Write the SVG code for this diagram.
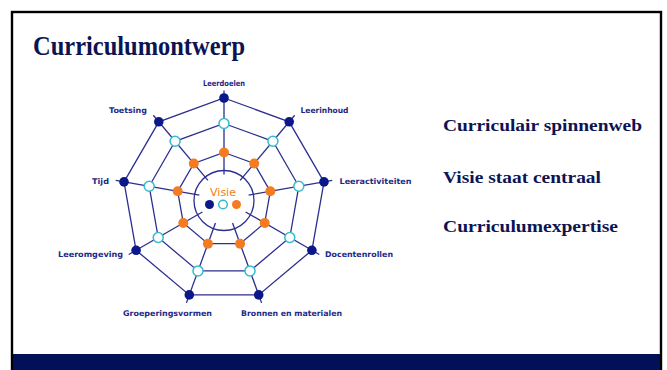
<svg xmlns="http://www.w3.org/2000/svg" width="667" height="370" viewBox="0 0 667 370">
<style>
.web{fill:none;stroke:#2b2f8e;stroke-width:1.3}
.n{fill:#0b1889}
.c{fill:#fff;stroke:#35bccb;stroke-width:1.5}
.o{fill:#f47b20}
.lbl{font-family:"DejaVu Sans","Liberation Sans",sans-serif;font-weight:bold;font-size:7.8px;fill:#1c2a86}
.h{font-family:"Liberation Serif","Times New Roman",serif;font-weight:bold;fill:#0d1452}
</style>
<rect x="0" y="0" width="667" height="370" fill="#fff"/>
<rect x="12" y="354" width="650" height="16" fill="#021157"/>
<rect x="12" y="12" width="649" height="370" fill="none" stroke="#000" stroke-width="2.4"/>
<text class="h" x="33" y="55" font-size="26.5" textLength="212" lengthAdjust="spacingAndGlyphs">Curriculumontwerp</text>
<text class="h" x="443" y="131" font-size="17" textLength="199" lengthAdjust="spacingAndGlyphs">Curriculair spinnenweb</text>
<text class="h" x="443" y="183" font-size="17" textLength="158" lengthAdjust="spacingAndGlyphs">Visie staat centraal</text>
<text class="h" x="443" y="232" font-size="17" textLength="175" lengthAdjust="spacingAndGlyphs">Curriculumexpertise</text>
<g id="connectors">
<polygon class="web" points="224,98 289.2,121.8 324,181.9 311.9,250.3 258.7,294.9 189.3,294.9 136.1,250.3 124,181.9 158.8,121.8"/>
<polygon class="web" points="224,123.5 272.9,141.3 298.8,186.3 289.8,237.5 250,270.9 198,270.9 158.2,237.5 149.2,186.3 175.1,141.3"/>
<polygon class="web" points="224,152.5 254.2,163.5 270.3,191.3 264.7,223 240.1,243.7 207.9,243.7 183.3,223 177.7,191.3 193.8,163.5"/>
<circle class="web" cx="224" cy="200.5" r="30"/>
<line class="web" x1="224" y1="174.5" x2="224" y2="90.5"/>
<line class="web" x1="240.1" y1="180.35" x2="294.7" y2="115.24"/>
<line class="web" x1="248.6" y1="195.16" x2="332.3" y2="180.4"/>
<line class="web" x1="245.65" y1="212" x2="319.3" y2="254.5"/>
<line class="web" x1="232.55" y1="223" x2="261.6" y2="302.9"/>
<line class="web" x1="215.45" y1="223" x2="186.4" y2="302.9"/>
<line class="web" x1="202.35" y1="212" x2="128.7" y2="254.5"/>
<line class="web" x1="199.38" y1="195.16" x2="115.7" y2="180.4"/>
<line class="web" x1="207.93" y1="180.35" x2="153.3" y2="115.24"/>
</g>
<g id="leerdoelen"><circle class="n" cx="224" cy="98" r="4.8"/><circle class="c" cx="224" cy="123.5" r="5"/><circle class="o" cx="224" cy="152.5" r="5"/><text class="lbl" x="224" y="86" text-anchor="middle" textLength="42" lengthAdjust="spacingAndGlyphs">Leerdoelen</text></g>
<g id="leerinhoud"><circle class="n" cx="289.2" cy="121.8" r="4.8"/><circle class="c" cx="272.9" cy="141.3" r="5"/><circle class="o" cx="254.2" cy="163.5" r="5"/><text class="lbl" x="300.5" y="112.5" textLength="48" lengthAdjust="spacingAndGlyphs">Leerinhoud</text></g>
<g id="leeractiviteiten"><circle class="n" cx="324" cy="181.9" r="4.8"/><circle class="c" cx="298.8" cy="186.3" r="5"/><circle class="o" cx="270.3" cy="191.3" r="5"/><text class="lbl" x="339.5" y="184" textLength="72" lengthAdjust="spacingAndGlyphs">Leeractiviteiten</text></g>
<g id="docentenrollen"><circle class="n" cx="311.9" cy="250.3" r="4.8"/><circle class="c" cx="289.8" cy="237.5" r="5"/><circle class="o" cx="264.7" cy="223" r="5"/><text class="lbl" x="325" y="257" textLength="68" lengthAdjust="spacingAndGlyphs">Docentenrollen</text></g>
<g id="bronnen"><circle class="n" cx="258.7" cy="294.9" r="4.8"/><circle class="c" cx="250" cy="270.9" r="5"/><circle class="o" cx="240.1" cy="243.7" r="5"/><text class="lbl" x="241" y="316" textLength="101" lengthAdjust="spacingAndGlyphs">Bronnen en materialen</text></g>
<g id="groeperingsvormen"><circle class="n" cx="189.3" cy="294.9" r="4.8"/><circle class="c" cx="198" cy="270.9" r="5"/><circle class="o" cx="207.9" cy="243.7" r="5"/><text class="lbl" x="123" y="316" textLength="89" lengthAdjust="spacingAndGlyphs">Groeperingsvormen</text></g>
<g id="leeromgeving"><circle class="n" cx="136.1" cy="250.3" r="4.8"/><circle class="c" cx="158.2" cy="237.5" r="5"/><circle class="o" cx="183.3" cy="223" r="5"/><text class="lbl" x="58" y="257" textLength="65" lengthAdjust="spacingAndGlyphs">Leeromgeving</text></g>
<g id="tijd"><circle class="n" cx="124" cy="181.9" r="4.8"/><circle class="c" cx="149.2" cy="186.3" r="5"/><circle class="o" cx="177.7" cy="191.3" r="5"/><text class="lbl" x="92" y="183.5" textLength="17" lengthAdjust="spacingAndGlyphs">Tijd</text></g>
<g id="toetsing"><circle class="n" cx="158.8" cy="121.8" r="4.8"/><circle class="c" cx="175.1" cy="141.3" r="5"/><circle class="o" cx="193.8" cy="163.5" r="5"/><text class="lbl" x="147" y="112.5" text-anchor="end" textLength="38" lengthAdjust="spacingAndGlyphs">Toetsing</text></g>
<g id="visie">
<text x="223" y="196" text-anchor="middle" font-family="DejaVu Sans,Liberation Sans,sans-serif" font-size="11" fill="#f47b20">Visie</text>
<circle class="n" cx="209.5" cy="204.5" r="4.5"/>
<circle class="c" cx="223" cy="204.5" r="4.3"/>
<circle class="o" cx="236.5" cy="204.5" r="4.5"/>
</g>
</svg>
